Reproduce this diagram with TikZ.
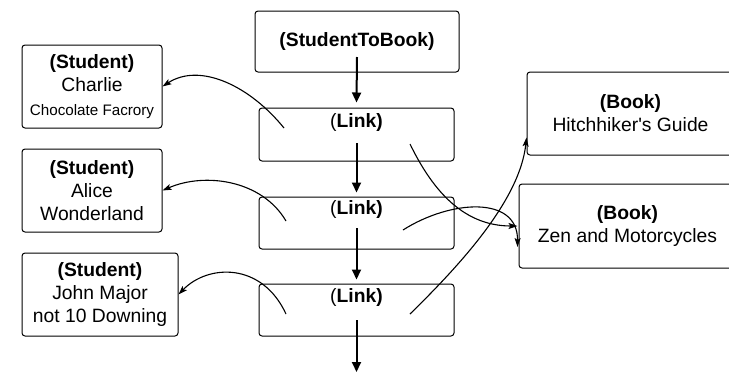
\documentclass[tikz,border=0pt]{standalone}
\usepackage{fontspec}
\setmainfont{Liberation Sans}[Ligatures=TeXOff]
\usetikzlibrary{arrows.meta,calc}
\begin{document}
\begin{tikzpicture}[x=1pt,y=-1pt,
  box/.style={draw,rounded corners=3pt,line width=1pt,inner sep=0pt,align=center,
    font=\fontsize{19.3}{23}\selectfont},
  lbl/.style={inner sep=0pt,font=\fontsize{19.3}{23}\selectfont},
  vlink/.style={line width=2pt,-{Triangle[length=10pt,width=9pt]}},
  ref/.style={line width=1.1pt,-{Stealth[length=9pt,width=6pt,inset=2pt]}}]
\clip (0,0) rectangle (729,376);
% main chain
\node[box,minimum width=204pt,minimum height=61pt] (stb) at (357,41.5) {\textbf{(StudentToBook)}};
\node[box,minimum width=195pt,minimum height=53pt] (l1) at (356.5,134.5) {};
\node[box,minimum width=195pt,minimum height=52pt] (l2) at (356.5,223) {};
\node[box,minimum width=195pt,minimum height=52pt] (l3) at (356.5,310) {};
\node[lbl] (t1) at (356.5,123) {(\textbf{Link)}};
\node[lbl] (t2) at (356.5,210) {(\textbf{Link)}};
\node[lbl] (t3) at (356.5,298) {(\textbf{Link)}};
% students
\node[box,minimum width=140pt,minimum height=83pt] (charlie) at (92,86.5)
  {\textbf{(Student)}\\Charlie\\[1pt]{\fontsize{15.2}{18}\selectfont Chocolate Facrory}};
\node[box,minimum width=140pt,minimum height=83pt] (alice) at (92,190.5)
  {\textbf{(Student)}\\Alice\\Wonderland};
\node[box,minimum width=156pt,minimum height=83pt] (john) at (100,294.5)
  {\textbf{(Student)}\\John Major\\not 10 Downing};
% books
\node[box,minimum width=207pt,minimum height=83pt] (hitch) at (630.5,113.5)
  {\textbf{(Book)}\\Hitchhiker's Guide};
\node[box,minimum width=217pt,minimum height=84pt] (zen) at (627.5,226)
  {\textbf{(Book)}\\Zen and Motorcycles};
% chain arrows
\coordinate (a0) at (357,57);
\coordinate (a1) at (356.5,143);
\coordinate (a2) at (356.5,228);
\coordinate (a3) at (356.5,320);
\coordinate (aend) at (356.5,372);
\draw[vlink] (a0) -- ($(l1.north)+(0,-5)$);
\draw[vlink] (a1) -- ($(l2.north)+(0,-4)$);
\draw[vlink] (a2) -- ($(l3.north)+(0,-4)$);
\draw[vlink] (a3) -- (aend);
% links to students
\coordinate (s1) at (284,128);
\coordinate (s2) at (286,221);
\coordinate (s3) at (286,314);
\draw[ref] (s1) .. controls (250,86) and (200,62) .. (charlie.east);
\draw[ref] (s2) .. controls (262,180) and (205,172) .. (alice.east);
\draw[ref] (s3) .. controls (262,262) and (208,264) .. (john.east);
% links to books
\coordinate (b1) at (410,144);
\coordinate (b2) at (403,230);
\coordinate (b3) at (410,314);
\draw[ref] (b1) .. controls (430,185) and (460,226) .. ($(zen.west)+(-1,0)$);
\draw[ref] (b2) .. controls (450,200) and (518,195) .. ($(zen.west)+(-1,21)$);
\draw[ref] (b3) .. controls (460,265) and (520,200) .. ($(hitch.south west)+(0,-18)$);
\end{tikzpicture}
\end{document}
